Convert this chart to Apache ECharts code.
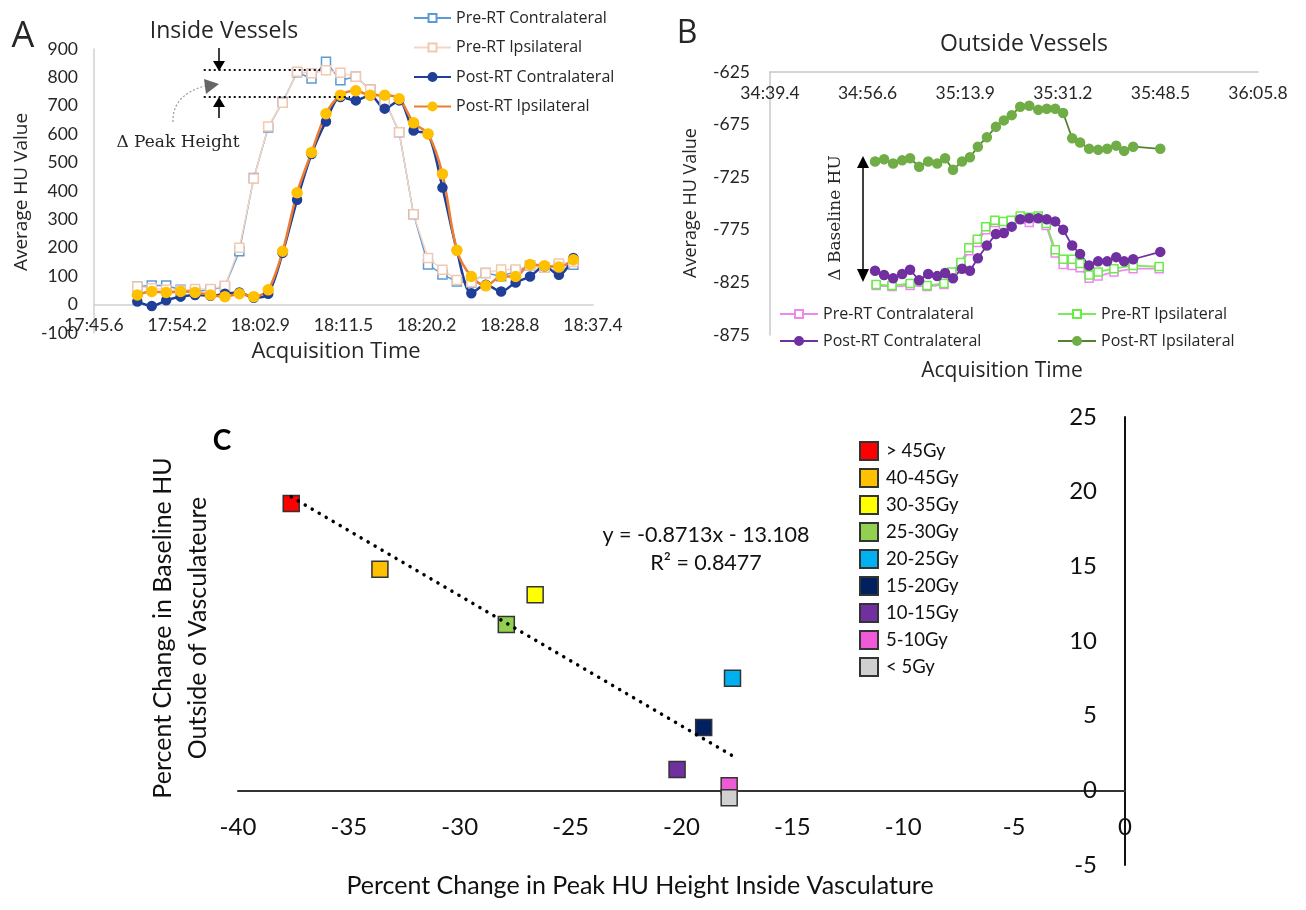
<!DOCTYPE html>
<html>
<head>
<meta charset="utf-8">
<script src="https://cdn.jsdelivr.net/npm/echarts@6/dist/echarts.min.js"></script>
<style>
html, body { margin: 0; background: #fff; }
.panel { position: absolute; left: 0; top: 0; width: 1306px; height: 910px; }
</style>
</head>
<body>
<div id="chartA" class="panel"></div>
<div id="chartB" class="panel"></div>
<div id="chartC" class="panel"></div>
<script>
// ---------- data: panel A (inside vessels), seconds after 17:45.6 ----------
var tickA = ['17:45.6', '17:54.2', '18:02.9', '18:11.5', '18:20.2', '18:28.8', '18:37.4'];
var timeA = [4.5, 6.0, 7.5, 9.0, 10.5, 12.1, 13.6, 15.1, 16.6, 18.1, 19.6, 21.1, 22.6, 24.1, 25.6, 27.2,
             28.7, 30.2, 31.7, 33.2, 34.7, 36.2, 37.7, 39.2, 40.7, 42.3, 43.8, 45.3, 46.8, 48.3, 49.8];
var preContraA = [64, 67, 67, 52, 46, 52, 64, 188, 446, 624, 713, 818, 796, 855, 790, 802,
                  757, 719, 607, 318, 141, 106, 81, 78, 111, 100, 117, 138, 130, 138, 140];
var preIpsiA = [64, 58, 52, 50, 55, 55, 66, 200, 444, 627, 711, 820, 815, 825, 816, 802,
                757, 719, 607, 318, 164, 123, 87, 80, 111, 124, 124, 138, 130, 145, 150];
var postContraA = [11, -5, 15, 28, 34, 31, 38, 43, 24, 38, 182, 369, 530, 645, 731, 719,
                   737, 690, 719, 613, 601, 412, 191, 40, 70, 46, 78, 99, 135, 105, 164];
var postIpsiA = [34, 46, 43, 46, 43, 34, 28, 38, 28, 52, 188, 394, 536, 672, 737, 753,
                 737, 737, 725, 640, 601, 460, 191, 99, 66, 99, 99, 141, 137, 132, 158];
var peakLevels = [828, 731];

// ---------- data: panel B (outside vessels), seconds after 34:39.4 ----------
var tickB = ['34:39.4', '34:56.6', '35:13.9', '35:31.2', '35:48.5', '36:05.8'];
var timePreB = [18.8, 21.6, 24.8, 27.8, 30.8, 32.2, 33.8, 35.2, 36.7, 38.2, 39.8, 41.3, 42.7,
                44.3, 45.9, 47.5, 48.9, 50.5, 51.9, 53.5, 54.9, 56.5, 58.1, 60.9, 64.3, 68.9];
var preContraB = [-828, -829, -828, -829, -827, -817, -808, -795, -787, -775, -768, -770, -768,
                  -765, -768, -764, -771, -797, -808, -809, -811, -821, -819, -815, -812, -812];
var preIpsiB = [-827, -828, -826, -828, -826, -815, -806, -792, -784, -772, -766, -767, -766,
                -762, -763, -762, -769, -794, -803, -803, -807, -818, -815, -812, -809, -810];
var timePostB = [18.6, 20.2, 21.8, 23.4, 24.8, 26.4, 28.0, 29.6, 31.0, 32.4, 34.0, 35.4, 36.8, 38.4, 40.0, 41.4,
                 42.8, 44.3, 45.9, 47.5, 49.0, 50.5, 51.9, 53.5, 54.9, 56.5, 58.1, 59.7, 61.3, 62.7, 64.3, 69.1];
var postContraB = [-814, -818, -821, -817, -813, -823, -817, -819, -816, -821, -812, -814, -802, -790, -779, -778,
                   -772, -765, -764, -764, -765, -767, -775, -790, -798, -809, -805, -805, -801, -805, -803, -796];
var postIpsiB = [-710, -708, -712, -709, -707, -715, -710, -712, -707, -718, -710, -706, -696, -687, -677, -671,
                 -666, -658, -657, -661, -660, -660, -664, -688, -692, -698, -699, -698, -695, -700, -696, -698];

// ---------- data: panel C ----------
var doseLabels = ['> 45Gy', '40-45Gy', '30-35Gy', '25-30Gy', '20-25Gy', '15-20Gy', '10-15Gy', '5-10Gy', '< 5Gy'];
var peakChange = [-37.6, -33.6, -26.6, -27.9, -17.7, -19.0, -20.2, -17.85, -17.85];
var baselineChange = [19.2, 14.8, 13.1, 11.1, 7.5, 4.2, 1.4, 0.3, -0.5];
var trendSlope = -0.8713;
var trendIntercept = -13.108;
var trendR2 = 0.8477;

var doseColors = ['#ff0000', '#ffc000', '#ffff00', '#92d050', '#00b0f0', '#002060', '#7030a0', '#ee5ad8', '#d0d0d0'];
var FONT = 'Lato';
var WIDE = 'Open Sans';
var INK = '#262626';

function pairs(t, v) {
	return t.map(function(x, i) { return [x, v[i]]; });
}

//文字
function txt(x, y, s, size, extra) {
	var el = {
		type: 'text', x: x, y: y, z: 100,
		style: {text: s, fill: INK, fontSize: size, fontFamily: WIDE, align: 'center', verticalAlign: 'middle'}
	};
	if (extra) {
		if (extra.rotation) el.rotation = extra.rotation;
		for (var k in extra.style || {}) el.style[k] = extra.style[k];
	}
	return el;
}

// ========== panel A ==========
var chartA = echarts.init(document.getElementById('chartA'));
function lineA(name, vals, lineColor, symbol, fill, border, size, width, smooth) {
	return {
		name: name, type: 'line', data: pairs(timeA, vals), smooth: smooth,
		symbol: symbol, symbolSize: size,
		lineStyle: {color: lineColor, width: width},
		itemStyle: {color: fill, borderColor: border, borderWidth: 1.5}
	};
}
var seriesA = [
	lineA('Pre-RT Contralateral', preContraA, '#5b9bd5', 'rect', '#fff', '#5b9bd5', 9, 1.5, false),
	lineA('Pre-RT Ipsilateral', preIpsiA, '#f8d5c0', 'rect', '#fff', '#f4c8b0', 9, 1.5, false),
	lineA('Post-RT Contralateral', postContraA, '#1f3f99', 'circle', '#1f3f99', '#1f3f99', 9, 2.5, 0.3),
	lineA('Post-RT Ipsilateral', postIpsiA, '#ed7d31', 'circle', '#ffc000', '#ffc000', 10, 2.5, 0.3)
];
seriesA[0].markLine = {
	silent: true, symbol: 'none', label: {show: false},
	lineStyle: {color: '#111', width: 2, type: [2, 3]},
	data: [
		[{coord: [11.4, peakLevels[0]]}, {coord: [23.5, peakLevels[0]]}],
		[{coord: [11.4, peakLevels[1]]}, {coord: [26.6, peakLevels[1]]}]
	]
};
chartA.setOption({
	textStyle: {fontFamily: FONT},
	animation: false,
	grid: {left: 94, right: 713, top: 49, bottom: 577},
	legend: {
		orient: 'vertical', left: 408, top: 5, itemWidth: 37, itemHeight: 10, itemGap: 13.5,
		textStyle: {fontSize: 16, fontFamily: WIDE, color: INK, lineHeight: 16},
		data: seriesA.map(function(s) { return s.name; })
	},
	xAxis: {
		type: 'value', min: 0, max: 51.84, interval: 8.64,
		axisLine: {onZero: true, lineStyle: {color: '#d0d0d0', width: 1.5}},
		axisTick: {show: false}, splitLine: {show: false},
		axisLabel: {
			fontSize: 17.5, color: INK, margin: -17,
			formatter: function(v) { return tickA[Math.round(v / 8.64)]; }
		}
	},
	yAxis: {
		type: 'value', min: -100, max: 900, interval: 100,
		axisLine: {show: true, lineStyle: {color: '#d0d0d0', width: 1.5}},
		axisTick: {show: false}, splitLine: {show: false},
		axisLabel: {fontSize: 17.5, color: INK, margin: 16}
	},
	series: seriesA,
	graphic: [
		txt(23, 37, 'A', 36),
		txt(224, 31, 'Inside Vessels', 23),
		txt(22, 192, 'Average HU Value', 19, {rotation: Math.PI / 2}),
		txt(336, 352, 'Acquisition Time', 22),
		txt(178, 143, 'Δ Peak Height', 17, {style: {fontFamily: 'DejaVu Serif'}}),
		// 上下箭头
		{type: 'line', shape: {x1: 219, y1: 48, x2: 219, y2: 62}, style: {stroke: '#000', lineWidth: 1.5}},
		{type: 'polygon', shape: {points: [[213, 61], [225, 61], [219, 71]]}, style: {fill: '#000'}},
		{type: 'line', shape: {x1: 219, y1: 106, x2: 219, y2: 118}, style: {stroke: '#000', lineWidth: 1.5}},
		{type: 'polygon', shape: {points: [[213, 107], [225, 107], [219, 97]]}, style: {fill: '#000'}},
		// 弯曲箭头
		{type: 'bezierCurve', shape: {x1: 173, y1: 122, cpx1: 172, cpy1: 95, x2: 205, y2: 86},
			style: {stroke: '#999', lineWidth: 1.2, lineDash: [2, 2], fill: null}},
		{type: 'polygon', shape: {points: [[204, 79], [206, 94], [219, 84]]}, style: {fill: '#666'}}
	]
});

// ========== panel B ==========
var chartB = echarts.init(document.getElementById('chartB'));
function lineB(name, t, vals, lineColor, symbol, fill, border, size) {
	return {
		name: name, type: 'line', data: pairs(t, vals),
		symbol: symbol, symbolSize: size,
		lineStyle: {color: lineColor, width: 1.8},
		itemStyle: {color: fill, borderColor: border, borderWidth: 1.5}
	};
}
var seriesB = [
	lineB('Pre-RT Contralateral', timePreB, preContraB, '#ee88ee', 'rect', '#fff', '#ee88ee', 8),
	lineB('Pre-RT Ipsilateral', timePreB, preIpsiB, '#77ee55', 'rect', '#fff', '#66ee44', 8),
	lineB('Post-RT Contralateral', timePostB, postContraB, '#7030a0', 'circle', '#7030a0', '#7030a0', 9),
	lineB('Post-RT Ipsilateral', timePostB, postIpsiB, '#548235', 'circle', '#70ad47', '#70ad47', 9)
];
var legendB = {
	orient: 'vertical', top: 301, itemWidth: 38, itemHeight: 10, itemGap: 11,
	textStyle: {fontSize: 16, fontFamily: WIDE, color: INK, lineHeight: 16}
};
chartB.setOption({
	textStyle: {fontFamily: FONT},
	animation: false,
	grid: {left: 770, right: 48, top: 72, bottom: 575},
	legend: [
		Object.assign({left: 774, data: ['Pre-RT Contralateral', 'Post-RT Contralateral']}, legendB),
		Object.assign({left: 1052, data: ['Pre-RT Ipsilateral', 'Post-RT Ipsilateral']}, legendB)
	],
	xAxis: {
		type: 'value', position: 'top', min: 0, max: 86.4, interval: 17.28,
		axisLine: {onZero: false, lineStyle: {color: '#c8c8c8', width: 1.5}},
		axisTick: {show: false}, splitLine: {show: false},
		axisLabel: {
			inside: true, fontSize: 17.5, color: INK, margin: 12,
			formatter: function(v) { return tickB[Math.round(v / 17.28)]; }
		}
	},
	yAxis: {
		type: 'value', min: -875, max: -625, interval: 50,
		axisLine: {show: true, lineStyle: {color: '#c8c8c8', width: 1.5}},
		axisTick: {show: false}, splitLine: {show: false},
		axisLabel: {fontSize: 17.5, color: INK, margin: 20}
	},
	series: seriesB,
	graphic: [
		txt(687, 34, 'B', 32),
		txt(1024, 44, 'Outside Vessels', 23),
		txt(691, 203, 'Average HU Value', 18, {rotation: Math.PI / 2}),
		txt(1002, 371, 'Acquisition Time', 21),
		txt(836, 218, 'Δ Baseline HU', 17, {rotation: Math.PI / 2, style: {fontFamily: 'DejaVu Serif'}}),
		{type: 'line', shape: {x1: 863, y1: 166, x2: 863, y2: 271}, style: {stroke: '#000', lineWidth: 1.5}},
		{type: 'polygon', shape: {points: [[857, 168], [869, 168], [863, 156]]}, style: {fill: '#000'}},
		{type: 'polygon', shape: {points: [[857, 269], [869, 269], [863, 282]]}, style: {fill: '#000'}}
	]
});

// ========== panel C ==========
var chartC = echarts.init(document.getElementById('chartC'));
var seriesC = doseLabels.map(function(name, i) {
	return {
		name: name, type: 'scatter', symbol: 'rect', symbolSize: 16,
		data: [[peakChange[i], baselineChange[i]]],
		itemStyle: {color: doseColors[i], borderColor: '#333', borderWidth: 1.5, opacity: 1}
	};
});
var xLo = Math.min.apply(null, peakChange), xHi = Math.max.apply(null, peakChange);
seriesC.push({
	name: 'trend', type: 'line', symbol: 'none', z: 5, silent: true,
	data: [[xLo, trendSlope * xLo + trendIntercept], [xHi, trendSlope * xHi + trendIntercept]],
	lineStyle: {color: '#000', width: 3.5, type: [0.1, 8], cap: 'round'}
});
chartC.setOption({
	textStyle: {fontFamily: FONT},
	animation: false,
	grid: {left: 238, right: 181, top: 417, bottom: 45},
	legend: {
		orient: 'vertical', left: 854, top: 436, itemWidth: 18, itemHeight: 18, itemGap: 7,
		textStyle: {fontSize: 18.5, color: '#111', padding: [0, 0, 0, 3]},
		data: doseLabels
	},
	xAxis: {
		type: 'value', min: -40, max: 0, interval: 5,
		axisLine: {onZero: true, lineStyle: {color: '#333', width: 2}},
		axisTick: {show: false}, splitLine: {show: false},
		axisLabel: {fontSize: 24, color: '#111', margin: -50}
	},
	yAxis: {
		type: 'value', position: 'right', min: -5, max: 25, interval: 5,
		axisLine: {show: true, onZero: false, lineStyle: {color: '#111', width: 2}},
		axisTick: {show: false}, splitLine: {show: false},
		axisLabel: {inside: true, fontSize: 24, color: '#111', margin: 28}
	},
	series: seriesC,
	graphic: [
		txt(222, 441, 'C', 28, {style: {fontWeight: 'bold', fill: '#000', fontFamily: FONT}}),
		txt(706, 535, 'y = ' + trendSlope + 'x - ' + Math.abs(trendIntercept), 21.5, {style: {fill: '#111', fontFamily: FONT}}),
		txt(706, 563, 'R² = ' + trendR2, 21.5, {style: {fill: '#111', fontFamily: FONT}}),
		txt(180, 628, 'Percent Change in Baseline HU\nOutside of Vasculateure', 25,
			{rotation: Math.PI / 2, style: {fill: '#111', lineHeight: 35, fontFamily: FONT}}),
		txt(640, 886, 'Percent Change in Peak HU Height Inside Vasculature', 25, {style: {fill: '#111', fontFamily: FONT}})
	]
});
</script>
</body>
</html>
